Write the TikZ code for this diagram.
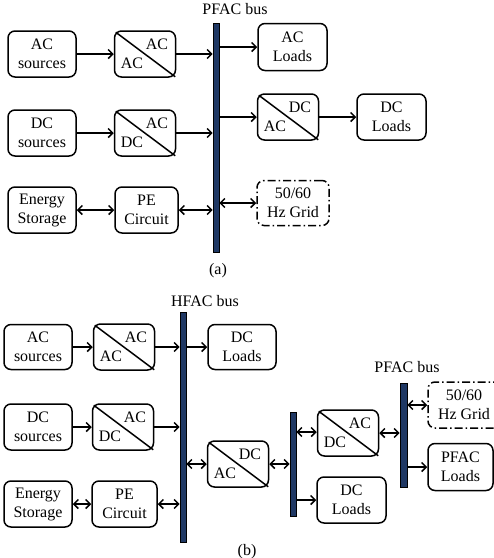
\documentclass[tikz,border=0pt]{standalone}
\usepackage{fontspec}
\setmainfont{Liberation Serif}
\usetikzlibrary{arrows.meta,calc}
\definecolor{busblue}{RGB}{31,56,100}
\tikzset{
  box/.style={draw,line width=1.5pt,rounded corners=7pt,align=center,inner sep=0pt,font=\fontsize{16}{19}\selectfont},
  conv/.style={draw,line width=1.5pt,rounded corners=7pt,inner sep=0pt,minimum width=61pt,minimum height=46pt},
  gridbox/.style={box,dash pattern=on 8pt off 3pt on 1.5pt off 3pt},
  bus/.style={draw,line width=0.6pt,fill=busblue,inner sep=0pt},
  lbl/.style={font=\fontsize{16}{19}\selectfont,inner sep=0pt,align=center},
  arr/.style={line width=1.5pt,-{Straight Barb[length=4.5pt,width=9pt]}},
  darr/.style={line width=1.5pt,{Straight Barb[length=4.5pt,width=9pt]}-{Straight Barb[length=4.5pt,width=9pt]}}
}
\newcommand\convbox[5]{%
  \node[conv] (#1) at (#2,#3) {};
  \draw[line width=1.5pt] ($(#1.north west)+(2pt,-2pt)$) -- ($(#1.south east)+(-1pt,1pt)$);
  \node[lbl,xshift=12pt,yshift=10pt] at (#1) {#4};
  \node[lbl,xshift=-13pt,yshift=-9pt] at (#1) {#5};}
\begin{document}
\begin{tikzpicture}[x=1pt,y=-1pt]
\useasboundingbox (0,0) rectangle (494,558);
% ---------- (a) ----------
\node[lbl] (pfaclbl) at (235,9) {PFAC bus};
\node[bus,minimum width=6pt,minimum height=229pt] (busa) at (216,137.5) {};
\node[box,minimum width=68pt,minimum height=46pt] (acsrc) at (42,54) {AC\\sources};
\convbox{conva}{145}{54}{AC}{AC}
\node[box,minimum width=68pt,minimum height=46pt] (dcsrc) at (42,133) {DC\\sources};
\convbox{convb}{145}{133}{AC}{DC}
\node[box,minimum width=68pt,minimum height=46pt] (es) at (42,210) {Energy\\Storage};
\node[box,minimum width=63pt,minimum height=46pt] (pe) at (146.5,210) {PE\\Circuit};
\node[box,minimum width=69pt,minimum height=47pt] (acload) at (292.5,47) {AC\\Loads};
\convbox{convc}{288}{117}{DC}{AC}
\node[box,minimum width=69pt,minimum height=46pt] (dcload) at (391.5,117) {DC\\Loads};
\node[gridbox,minimum width=72pt,minimum height=45pt] (grid) at (293,203) {50/60\\Hz Grid};
\node[lbl] (alabel) at (218,271) {(a)};
\draw[arr] (acsrc.east) -- (conva.west);
\draw[arr] (conva.east) -- (conva.east -| busa.west);
\draw[arr] (dcsrc.east) -- (convb.west);
\draw[arr] (convb.east) -- (convb.east -| busa.west);
\draw[darr] (es.east) -- (pe.west);
\draw[darr] (pe.east) -- (pe.east -| busa.west);
\draw[arr] (acload.west -| busa.east) -- (acload.west);
\draw[arr] (convc.west -| busa.east) -- (convc.west);
\draw[arr] (convc.east) -- (dcload.west);
\draw[darr] (grid.west -| busa.east) -- (grid.west);
% ---------- (b) ----------
\node[lbl] (hfaclbl) at (205,301) {HFAC bus};
\node[bus,minimum width=6pt,minimum height=230pt] (hfac) at (183,427) {};
\node[box,minimum width=68pt,minimum height=45pt] (acsrcb) at (38,347) {AC\\sources};
\convbox{convd}{124}{347}{AC}{AC}
\node[box,minimum width=68pt,minimum height=45pt] (dcloadb) at (242,347) {DC\\Loads};
\node[box,minimum width=68pt,minimum height=46pt] (dcsrcb) at (38,427) {DC\\sources};
\convbox{conve}{123}{427}{AC}{DC}
\node[box,minimum width=68pt,minimum height=46pt] (esb) at (38,504) {Energy\\Storage};
\node[box,minimum width=65pt,minimum height=46pt] (peb) at (124.5,504) {PE\\Circuit};
\convbox{convf}{238}{464}{DC}{AC}
\node[bus,minimum width=6pt,minimum height=104pt] (dcbus) at (293,464) {};
\convbox{convg}{348}{433}{AC}{DC}
\node[box,minimum width=69pt,minimum height=46pt] (dcloadc) at (351.5,500) {DC\\Loads};
\node[lbl] (pfaclblb) at (407,367) {PFAC bus};
\node[bus,minimum width=7pt,minimum height=104pt] (pfacbus) at (403.5,435) {};
\node[gridbox,minimum width=80pt,minimum height=46pt] (gridb) at (468,405) {};
\node[lbl] (gridbtxt) at (464,405) {50/60\\Hz Grid};
\node[box,minimum width=65pt,minimum height=47pt] (pfacload) at (460.5,467) {PFAC\\Loads};
\node[lbl] (blabel) at (247,552) {(b)};
\draw[arr] (acsrcb.east) -- (convd.west);
\draw[arr] (convd.east) -- (convd.east -| hfac.west);
\draw[arr] (dcloadb.west -| hfac.east) -- (dcloadb.west);
\draw[arr] (dcsrcb.east) -- (conve.west);
\draw[arr] (conve.east) -- (conve.east -| hfac.west);
\draw[darr] (esb.east) -- (peb.west);
\draw[darr] (peb.east) -- (peb.east -| hfac.west);
\draw[darr] (convf.west -| hfac.east) -- (convf.west);
\draw[darr] (convf.east) -- (convf.east -| dcbus.west);
\draw[darr] ([yshift=1pt]convg.west -| dcbus.east) -- ([yshift=1pt]convg.west);
\draw[arr] (dcloadc.west -| dcbus.east) -- (dcloadc.west);
\draw[darr] (convg.east) -- (convg.east -| pfacbus.west);
\draw[darr] (gridb.west -| pfacbus.east) -- (gridb.west);
\draw[arr] (pfacload.west -| pfacbus.east) -- (pfacload.west);
\end{tikzpicture}
\end{document}
